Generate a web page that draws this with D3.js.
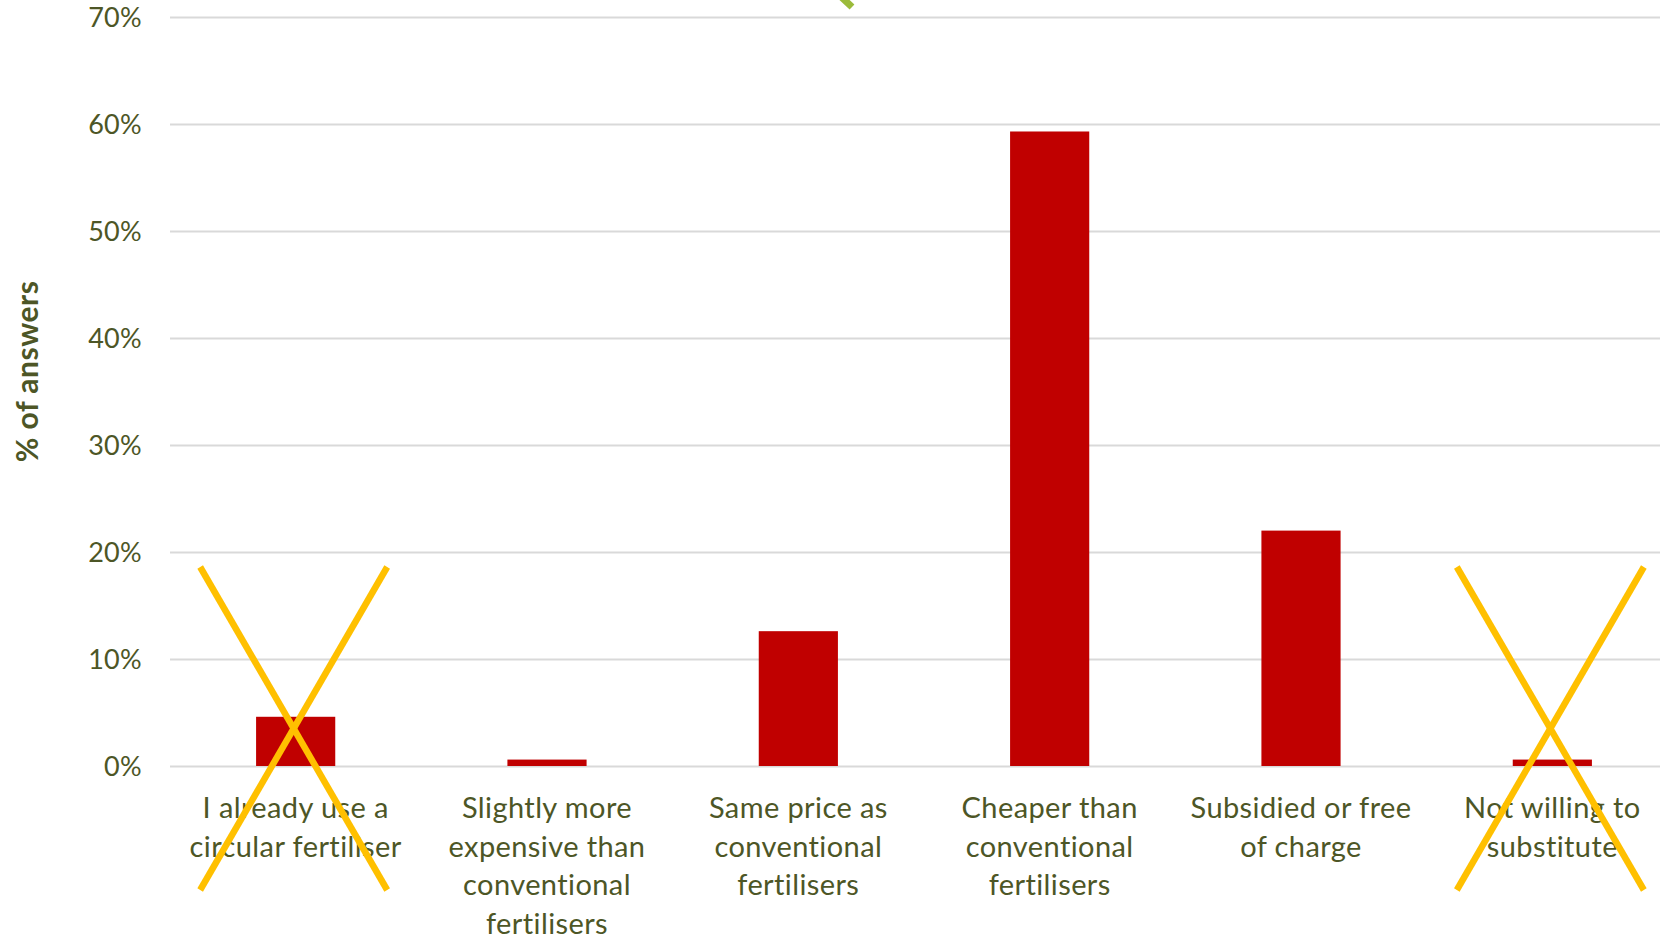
<!DOCTYPE html>
<html>
<head>
<meta charset="utf-8">
<script src="https://cdn.jsdelivr.net/npm/d3@7"></script>
<style>
  html, body { margin: 0; padding: 0; background: #ffffff; }
  svg { display: block; }
</style>
</head>
<body>
<svg id="chart" width="1660" height="938"></svg>
<script>
// Survey answers: price at which a circular fertiliser would be used
const categories = [
  "I already use a\ncircular fertiliser",
  "Slightly more\nexpensive than\nconventional\nfertilisers",
  "Same price as\nconventional\nfertilisers",
  "Cheaper than\nconventional\nfertilisers",
  "Subsidied or free\nof charge",
  "Not willing to\nsubstitute"
];
const shares = [0.046, 0.006, 0.126, 0.593, 0.220, 0.006];
const tickValues = [0, 0.1, 0.2, 0.3, 0.4, 0.5, 0.6, 0.7];
const tickLabels = ["0%", "10%", "20%", "30%", "40%", "50%", "60%", "70%"];
const crossedOut = ["I already use a\ncircular fertiliser", "Not willing to\nsubstitute"];
const axisTitle = "% of answers";

const textColor = "#4d5626";
const barColor = "#c00000";
const crossColor = "#ffc000";
const gridColor = "#d9d9d9";
const font = "Lato, 'Open Sans', sans-serif";

const svg = d3.select("#chart");
const W = 1660, H = 938;
svg.append("rect").attr("width", W).attr("height", H).attr("fill", "#fff");

const plot = { left: 170, right: 1678, top: 17, bottom: 766 };

const x = d3.scaleBand().domain(categories).range([plot.left, plot.right]).padding(0);
const y = d3.scaleLinear().domain([0, 0.7]).range([plot.bottom, plot.top]);
const barW = x.bandwidth() * 0.315;

// horizontal gridlines with percentage labels
const yAxis = d3.axisLeft(y)
  .tickValues(tickValues)
  .tickFormat((d, i) => tickLabels[i])
  .tickSize(-(plot.right - plot.left))
  .tickPadding(28);

const gy = svg.append("g")
  .attr("transform", `translate(${plot.left},0)`)
  .call(yAxis);
gy.select(".domain").remove();
gy.selectAll(".tick line").attr("stroke", gridColor).attr("stroke-width", 2);
gy.selectAll(".tick text")
  .attr("fill", textColor)
  .attr("font-family", font)
  .attr("font-size", 27)
  .attr("letter-spacing", "0.3px")
  .attr("dy", "0.36em");

// bars
svg.append("g").selectAll("rect")
  .data(categories)
  .join("rect")
  .attr("x", d => x(d) + (x.bandwidth() - barW) / 2)
  .attr("width", barW)
  .attr("y", (d, i) => y(shares[i]))
  .attr("height", (d, i) => y(0) - y(shares[i]))
  .attr("fill", barColor);

// category labels, one tspan per line
const gx = svg.append("g");
categories.forEach(c => {
  const t = gx.append("text")
    .attr("x", x(c) + x.bandwidth() / 2)
    .attr("y", plot.bottom + 52)
    .attr("text-anchor", "middle")
    .attr("fill", textColor)
    .attr("font-family", font)
    .attr("font-size", 29)
    .attr("letter-spacing", "0.4px");
  c.split("\n").forEach((line, i) => {
    t.append("tspan")
      .attr("x", x(c) + x.bandwidth() / 2)
      .attr("dy", i === 0 ? 0 : 38.7)
      .text(line);
  });
});

// axis title
svg.append("text")
  .attr("transform", `translate(38,${(plot.top + plot.bottom) / 2 - 20}) rotate(-90)`)
  .attr("text-anchor", "middle")
  .attr("fill", textColor)
  .attr("font-family", font)
  .attr("font-weight", "bold")
  .attr("font-size", 30)
  .attr("letter-spacing", "0.5px")
  .text(axisTitle);

// crosses drawn over the excluded answer options
const crossHalfW = 93.5, crossTop = 567, crossBottom = 890;
const gc = svg.append("g")
  .attr("stroke", crossColor)
  .attr("stroke-width", 6.5)
  .attr("stroke-linecap", "butt");
crossedOut.forEach(c => {
  const cx = x(c) + x.bandwidth() / 2 - 2;
  gc.append("line").attr("x1", cx - crossHalfW).attr("y1", crossTop)
    .attr("x2", cx + crossHalfW).attr("y2", crossBottom);
  gc.append("line").attr("x1", cx + crossHalfW).attr("y1", crossTop)
    .attr("x2", cx - crossHalfW).attr("y2", crossBottom);
});

// tail of an arrow entering from above
svg.append("line")
  .attr("x1", 836).attr("y1", -8)
  .attr("x2", 852).attr("y2", 7)
  .attr("stroke", "#9bbb3b")
  .attr("stroke-width", 7);
</script>
</body>
</html>
